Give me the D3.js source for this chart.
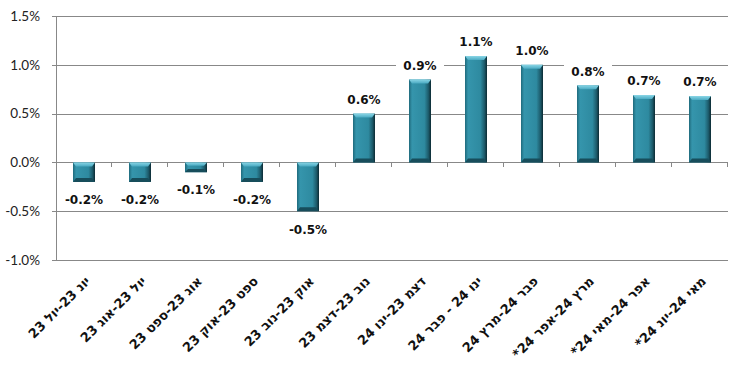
<!DOCTYPE html>
<html>
<head>
<meta charset="utf-8">
<script src="https://cdn.jsdelivr.net/npm/d3@7"></script>
<style>
  body { margin: 0; background: #fff; }
  svg { display: block; }
</style>
</head>
<body>
<svg width="735" height="375"></svg>
<script>
// Chart data
var categories = ['יונ 23-יול 23', 'יול 23-אוג 23', 'אוג 23-ספט 23', 'ספט 23-אוק 23',
    'אוק 23-נוב 23', 'נוב 23-דצמ 23', 'דצמ 23-ינו 24', 'ינו 24 - פבר 24',
    'פבר 24-מרץ 24', 'מרץ 24-אפר 24*', 'אפר 24-מאי 24*', 'מאי 24-יונ 24*'];
var values = [-0.2, -0.2, -0.1, -0.2, -0.5, 0.5, 0.85, 1.09, 1.0, 0.79, 0.69, 0.68];
var valueLabels = ['-0.2%', '-0.2%', '-0.1%', '-0.2%', '-0.5%', '0.6%', '0.9%', '1.1%', '1.0%', '0.8%', '0.7%', '0.7%'];
var yTicks = [-1.0, -0.5, 0.0, 0.5, 1.0, 1.5];

var svg = d3.select('svg');
var padding = {t: 16, r: 7, b: 115, l: 56};
var chartWidth = 735 - padding.l - padding.r;
var chartHeight = 375 - padding.t - padding.b;

var chartG = svg.append('g')
    .attr('transform', 'translate(' + [padding.l, padding.t] + ')');

var xScale = d3.scaleBand()
    .domain(categories)
    .range([0, chartWidth]);

var yScale = d3.scaleLinear()
    .domain([-1.0, 1.5])
    .range([chartHeight, 0]);

var gridColor = '#888';

// Gradients for the bevelled bars
var defs = svg.append('defs');
var frontGrad = defs.append('linearGradient').attr('id', 'barFront')
    .attr('x1', 0).attr('x2', 1).attr('y1', 0).attr('y2', 0);
frontGrad.append('stop').attr('offset', '0%').attr('stop-color', '#1f6a7c');
frontGrad.append('stop').attr('offset', '14%').attr('stop-color', '#3595ac');
frontGrad.append('stop').attr('offset', '70%').attr('stop-color', '#2e8aa0');
frontGrad.append('stop').attr('offset', '88%').attr('stop-color', '#1d5c6c');
frontGrad.append('stop').attr('offset', '100%').attr('stop-color', '#0c2a33');

var topGrad = defs.append('linearGradient').attr('id', 'barTop')
    .attr('x1', 0).attr('x2', 0).attr('y1', 0).attr('y2', 1);
topGrad.append('stop').attr('offset', '0%').attr('stop-color', '#8ad6e6');
topGrad.append('stop').attr('offset', '100%').attr('stop-color', '#4aaac2');

// Gridlines
chartG.append('g')
    .selectAll('line')
    .data(yTicks)
    .enter()
    .append('line')
    .attr('x1', -4)
    .attr('x2', chartWidth)
    .attr('y1', function(d) { return Math.round(yScale(d)) + 0.5; })
    .attr('y2', function(d) { return Math.round(yScale(d)) + 0.5; })
    .attr('stroke', gridColor)
    .attr('stroke-width', 1);

// Y axis
var yAxisG = chartG.append('g')
    .attr('class', 'y axis')
    .call(d3.axisLeft(yScale)
        .tickValues(yTicks)
        .tickSize(4)
        .tickPadding(12)
        .tickFormat(function(d) { return d.toFixed(1) + '%'; }));
yAxisG.select('.domain').attr('stroke', gridColor).attr('d', 'M0.5,0V' + chartHeight);
yAxisG.selectAll('.tick line').remove();
yAxisG.selectAll('text')
    .attr('font-family', 'Lato, sans-serif')
    .attr('font-size', 13.5)
    .attr('fill', '#222');

// Category ticks on the zero line
var boundaries = d3.range(1, categories.length + 1).map(function(i) { return i * xScale.step(); });
chartG.append('g')
    .selectAll('line')
    .data(boundaries)
    .enter()
    .append('line')
    .attr('x1', function(d) { return Math.round(d) - 0.5; })
    .attr('x2', function(d) { return Math.round(d) - 0.5; })
    .attr('y1', Math.round(yScale(0)))
    .attr('y2', Math.round(yScale(0)) + 5)
    .attr('stroke', gridColor);

// Bars
var barWidth = 22;
var bars = chartG.selectAll('.bar')
    .data(values)
    .enter()
    .append('g')
    .attr('class', 'bar');

bars.each(function(d, i) {
    var g = d3.select(this);
    var cx = xScale(categories[i]) + xScale.bandwidth() / 2;
    var x0 = cx - barWidth / 2, x1 = cx + barWidth / 2;
    var yTop = Math.min(yScale(d), yScale(0));
    var yBot = Math.max(yScale(d), yScale(0));
    var h = yBot - yTop;
    var b = Math.min(4, h / 3);
    var s = Math.min(3, barWidth / 4);

    g.append('rect')
        .attr('x', x0).attr('y', yTop)
        .attr('width', barWidth).attr('height', h)
        .attr('fill', 'url(#barFront)');
    // top bevel
    g.append('polygon')
        .attr('points', [[x0, yTop], [x1, yTop], [x1 - s, yTop + b], [x0 + s, yTop + b]].join(' '))
        .attr('fill', 'url(#barTop)');
    // bottom bevel
    g.append('polygon')
        .attr('points', [[x0, yBot], [x1, yBot], [x1 - s, yBot - b], [x0 + s, yBot - b]].join(' '))
        .attr('fill', '#174d5b');
});

// Value labels with white boxes
var labelG = chartG.selectAll('.vlabel')
    .data(values)
    .enter()
    .append('g')
    .attr('class', 'vlabel')
    .attr('transform', function(d, i) {
        var cx = xScale(categories[i]) + xScale.bandwidth() / 2;
        var cy = d >= 0 ? yScale(d) - 14 : yScale(d) + 18;
        return 'translate(' + [cx, cy] + ')';
    });

labelG.append('rect')
    .attr('x', -24).attr('y', -10)
    .attr('width', 48).attr('height', 20)
    .attr('fill', '#fff');

labelG.append('text')
    .attr('text-anchor', 'middle')
    .attr('dy', '0.36em')
    .attr('font-family', 'DejaVu Sans, sans-serif')
    .attr('font-weight', 'bold')
    .attr('font-size', 12)
    .attr('fill', '#111')
    .text(function(d, i) { return valueLabels[i]; });

// Category labels (rotated)
chartG.append('g')
    .selectAll('text')
    .data(categories)
    .enter()
    .append('text')
    .attr('transform', function(d) {
        var cx = xScale(d) + xScale.bandwidth() / 2;
        return 'translate(' + [cx + 7, chartHeight + 22] + ') rotate(-45)';
    })
    .attr('direction', 'rtl')
    .attr('text-anchor', 'start')
    .attr('font-family', 'DejaVu Sans, sans-serif')
    .attr('font-weight', 'bold')
    .attr('font-size', 13)
    .attr('fill', '#111')
    .text(function(d) { return d; });
</script>
</body>
</html>
